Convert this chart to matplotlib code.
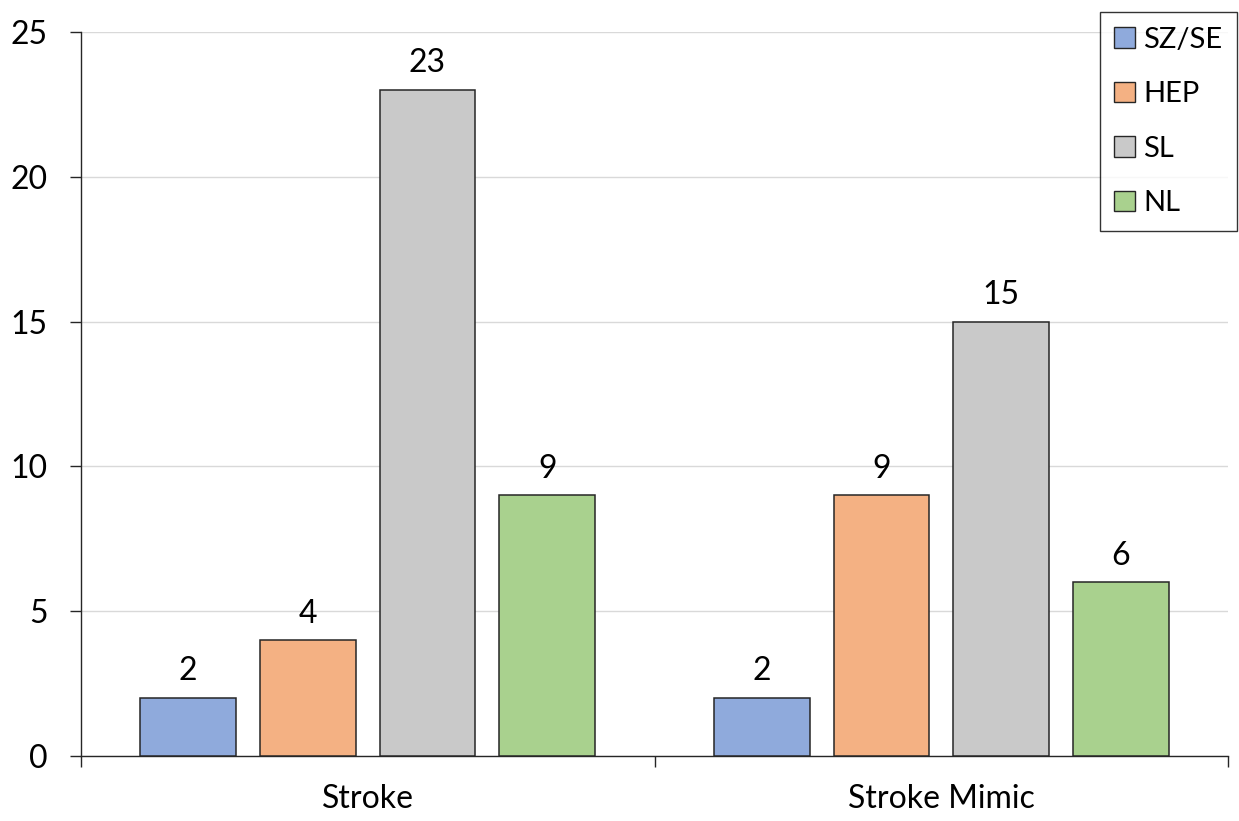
import matplotlib
matplotlib.use("Agg")
import matplotlib.pyplot as plt
import numpy as np
from matplotlib.patches import Patch

categories = ["Stroke", "Stroke Mimic"]
series = ["SZ/SE", "HEP", "SL", "NL"]
values = {
    "SZ/SE": [2, 2],
    "HEP": [4, 9],
    "SL": [23, 15],
    "NL": [9, 6],
}
colors = ["#8FAADC", "#F4B183", "#C9C9C9", "#A9D18E"]
yticks = [0, 5, 10, 15, 20, 25]

plt.rcParams['font.family'] = ['Lato', 'DejaVu Sans']
FS = 23
fig = plt.figure(figsize=(12.39, 8.21), dpi=100)
ax = fig.add_axes([81/1239, 1-756/821, (1228-81)/1239, (756-32)/821])

x = np.arange(len(categories))
width = 0.167
offsets = [-0.313, -0.104, 0.104, 0.313]
for i, s in enumerate(series):
    ax.bar(x + offsets[i], values[s], width, color=colors[i],
           edgecolor="#262626", linewidth=1.1, zorder=3, label=s)
    for xi, v in zip(x + offsets[i], values[s]):
        ax.text(xi, v + 0.4, str(v), ha="center", va="bottom", fontsize=FS, color="black")

ax.set_xlim(-0.5, 1.5)
ax.set_ylim(0, 25)
ax.set_yticks(yticks)
ax.set_yticklabels([str(t) for t in yticks], fontsize=FS)
ax.yaxis.grid(True, color="#D9D9D9", linewidth=1.0, zorder=0)
ax.set_axisbelow(True)
ax.set_xticks([-0.5, 0.5, 1.5])
ax.set_xticklabels([])
ax.tick_params(axis="x", length=8, width=1.0, color="#262626", direction="out")
ax.tick_params(axis="y", length=8, width=1.0, color="#262626", direction="out", pad=16)
for i, c in enumerate(categories):
    ax.text(x[i], -0.95, c, ha="center", va="top", fontsize=FS, transform=ax.transData)
for sp in ["top", "right"]:
    ax.spines[sp].set_visible(False)
for sp in ["left", "bottom"]:
    ax.spines[sp].set_color("#262626")
    ax.spines[sp].set_linewidth(1.0)

handles = [Patch(facecolor=colors[i], edgecolor="#262626", linewidth=1.0, label=s) for i, s in enumerate(series)]
leg = fig.legend(handles=handles, loc="upper right", bbox_to_anchor=(1237/1239, 1-12/821),
                 fontsize=21, frameon=True, fancybox=False, edgecolor="black",
                 handlelength=0.7, handleheight=0.7, handletextpad=0.3,
                 labelspacing=0.98, borderpad=0.5, borderaxespad=0)
leg.get_frame().set_linewidth(1.0)

fig.savefig("out.png", dpi=100, facecolor="white")
